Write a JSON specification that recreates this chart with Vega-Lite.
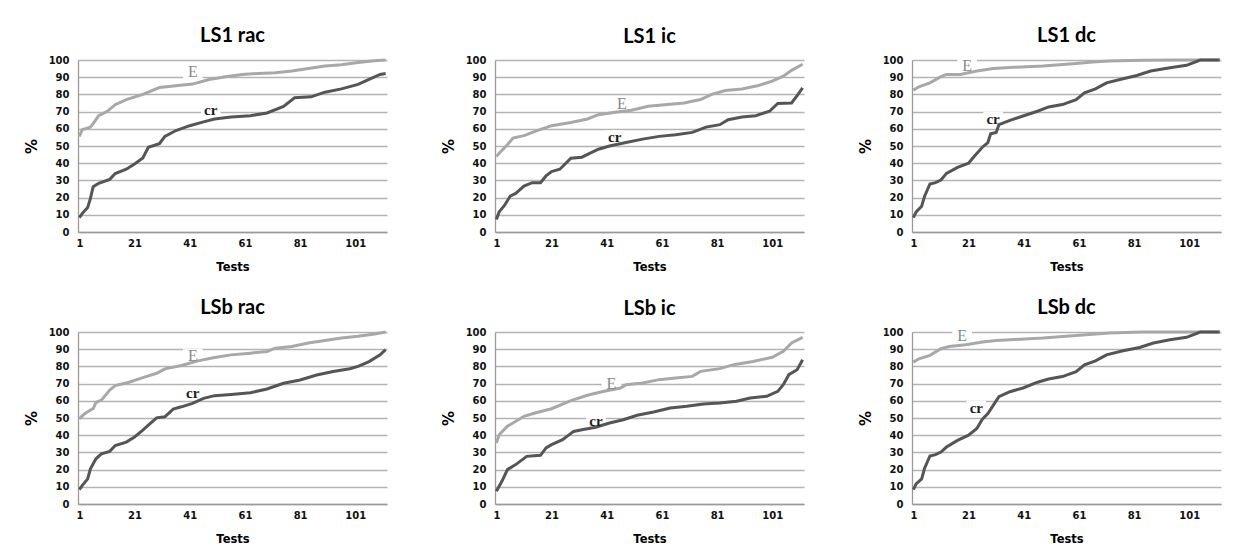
{
  "$schema": "https://vega.github.io/schema/vega-lite/v6.json",
  "background": "white",
  "padding": {"left": 24, "top": 26, "right": 0, "bottom": 0},
  "data": {"values": [
    {"p":"LS1 rac","s":"E","t":1,"v":55.5},{"p":"LS1 rac","s":"E","t":2,"v":59.5},{"p":"LS1 rac","s":"E","t":5,"v":61},{"p":"LS1 rac","s":"E","t":6,"v":63},{"p":"LS1 rac","s":"E","t":8,"v":67.6},{"p":"LS1 rac","s":"E","t":11,"v":70},{"p":"LS1 rac","s":"E","t":14,"v":74},{"p":"LS1 rac","s":"E","t":18,"v":77},{"p":"LS1 rac","s":"E","t":24,"v":80},{"p":"LS1 rac","s":"E","t":30,"v":84},{"p":"LS1 rac","s":"E","t":36,"v":85},{"p":"LS1 rac","s":"E","t":42,"v":86},{"p":"LS1 rac","s":"E","t":48,"v":88.7},{"p":"LS1 rac","s":"E","t":54,"v":90.2},{"p":"LS1 rac","s":"E","t":60,"v":91.6},{"p":"LS1 rac","s":"E","t":66,"v":92.2},{"p":"LS1 rac","s":"E","t":72,"v":92.6},{"p":"LS1 rac","s":"E","t":78,"v":93.6},{"p":"LS1 rac","s":"E","t":84,"v":95},{"p":"LS1 rac","s":"E","t":90,"v":96.5},{"p":"LS1 rac","s":"E","t":96,"v":97.3},{"p":"LS1 rac","s":"E","t":102,"v":98.5},{"p":"LS1 rac","s":"E","t":108,"v":99.6},{"p":"LS1 rac","s":"E","t":112,"v":100},
    {"p":"LS1 rac","s":"cr","t":1,"v":8.4},{"p":"LS1 rac","s":"cr","t":2,"v":10.7},{"p":"LS1 rac","s":"cr","t":4,"v":14.2},{"p":"LS1 rac","s":"cr","t":5,"v":19.5},{"p":"LS1 rac","s":"cr","t":6,"v":26.3},{"p":"LS1 rac","s":"cr","t":8,"v":28.3},{"p":"LS1 rac","s":"cr","t":12,"v":30.6},{"p":"LS1 rac","s":"cr","t":14,"v":34},{"p":"LS1 rac","s":"cr","t":18,"v":36.5},{"p":"LS1 rac","s":"cr","t":21,"v":39.6},{"p":"LS1 rac","s":"cr","t":24,"v":43},{"p":"LS1 rac","s":"cr","t":26,"v":49.3},{"p":"LS1 rac","s":"cr","t":30,"v":51.3},{"p":"LS1 rac","s":"cr","t":32,"v":55.6},{"p":"LS1 rac","s":"cr","t":36,"v":59},{"p":"LS1 rac","s":"cr","t":41,"v":61.8},{"p":"LS1 rac","s":"cr","t":46,"v":64},{"p":"LS1 rac","s":"cr","t":50,"v":65.7},{"p":"LS1 rac","s":"cr","t":56,"v":66.9},{"p":"LS1 rac","s":"cr","t":63,"v":67.6},{"p":"LS1 rac","s":"cr","t":69,"v":69.2},{"p":"LS1 rac","s":"cr","t":75,"v":73},{"p":"LS1 rac","s":"cr","t":79,"v":78},{"p":"LS1 rac","s":"cr","t":85,"v":78.6},{"p":"LS1 rac","s":"cr","t":90,"v":81.3},{"p":"LS1 rac","s":"cr","t":96,"v":83.2},{"p":"LS1 rac","s":"cr","t":102,"v":85.8},{"p":"LS1 rac","s":"cr","t":106,"v":88.7},{"p":"LS1 rac","s":"cr","t":110,"v":91.6},{"p":"LS1 rac","s":"cr","t":112,"v":92.2},
    {"p":"LS1 ic","s":"E","t":1,"v":43.9},{"p":"LS1 ic","s":"E","t":2,"v":45.8},{"p":"LS1 ic","s":"E","t":5,"v":50.7},{"p":"LS1 ic","s":"E","t":7,"v":54.6},{"p":"LS1 ic","s":"E","t":11,"v":56},{"p":"LS1 ic","s":"E","t":15,"v":58.5},{"p":"LS1 ic","s":"E","t":21,"v":61.8},{"p":"LS1 ic","s":"E","t":28,"v":63.7},{"p":"LS1 ic","s":"E","t":34,"v":65.7},{"p":"LS1 ic","s":"E","t":38,"v":68.2},{"p":"LS1 ic","s":"E","t":44,"v":69.6},{"p":"LS1 ic","s":"E","t":50,"v":70.8},{"p":"LS1 ic","s":"E","t":56,"v":73.1},{"p":"LS1 ic","s":"E","t":63,"v":74.1},{"p":"LS1 ic","s":"E","t":69,"v":75},{"p":"LS1 ic","s":"E","t":75,"v":77},{"p":"LS1 ic","s":"E","t":79,"v":80},{"p":"LS1 ic","s":"E","t":84,"v":82.3},{"p":"LS1 ic","s":"E","t":90,"v":83.2},{"p":"LS1 ic","s":"E","t":96,"v":85.2},{"p":"LS1 ic","s":"E","t":101,"v":87.7},{"p":"LS1 ic","s":"E","t":105,"v":90.6},{"p":"LS1 ic","s":"E","t":108,"v":94},{"p":"LS1 ic","s":"E","t":112,"v":97.5},
    {"p":"LS1 ic","s":"cr","t":1,"v":7.2},{"p":"LS1 ic","s":"cr","t":2,"v":11.7},{"p":"LS1 ic","s":"cr","t":4,"v":15.6},{"p":"LS1 ic","s":"cr","t":6,"v":20.9},{"p":"LS1 ic","s":"cr","t":8,"v":22.4},{"p":"LS1 ic","s":"cr","t":11,"v":26.7},{"p":"LS1 ic","s":"cr","t":14,"v":28.7},{"p":"LS1 ic","s":"cr","t":17,"v":28.7},{"p":"LS1 ic","s":"cr","t":19,"v":32.6},{"p":"LS1 ic","s":"cr","t":21,"v":35.1},{"p":"LS1 ic","s":"cr","t":24,"v":36.5},{"p":"LS1 ic","s":"cr","t":28,"v":42.9},{"p":"LS1 ic","s":"cr","t":32,"v":43.5},{"p":"LS1 ic","s":"cr","t":35,"v":45.8},{"p":"LS1 ic","s":"cr","t":38,"v":48.1},{"p":"LS1 ic","s":"cr","t":42,"v":50},{"p":"LS1 ic","s":"cr","t":48,"v":52},{"p":"LS1 ic","s":"cr","t":54,"v":54},{"p":"LS1 ic","s":"cr","t":60,"v":55.6},{"p":"LS1 ic","s":"cr","t":66,"v":56.5},{"p":"LS1 ic","s":"cr","t":72,"v":57.9},{"p":"LS1 ic","s":"cr","t":77,"v":61},{"p":"LS1 ic","s":"cr","t":82,"v":62.4},{"p":"LS1 ic","s":"cr","t":85,"v":65.3},{"p":"LS1 ic","s":"cr","t":90,"v":66.9},{"p":"LS1 ic","s":"cr","t":95,"v":67.6},{"p":"LS1 ic","s":"cr","t":100,"v":70.2},{"p":"LS1 ic","s":"cr","t":103,"v":74.7},{"p":"LS1 ic","s":"cr","t":108,"v":75},{"p":"LS1 ic","s":"cr","t":110,"v":79.3},{"p":"LS1 ic","s":"cr","t":112,"v":83.8},
    {"p":"LS1 dc","s":"E","t":1,"v":82.5},{"p":"LS1 dc","s":"E","t":3,"v":84.4},{"p":"LS1 dc","s":"E","t":7,"v":86.7},{"p":"LS1 dc","s":"E","t":11,"v":90.3},{"p":"LS1 dc","s":"E","t":13,"v":91.6},{"p":"LS1 dc","s":"E","t":18,"v":91.6},{"p":"LS1 dc","s":"E","t":24,"v":93.6},{"p":"LS1 dc","s":"E","t":30,"v":95},{"p":"LS1 dc","s":"E","t":36,"v":95.7},{"p":"LS1 dc","s":"E","t":42,"v":96.1},{"p":"LS1 dc","s":"E","t":48,"v":96.5},{"p":"LS1 dc","s":"E","t":54,"v":97.3},{"p":"LS1 dc","s":"E","t":60,"v":98},{"p":"LS1 dc","s":"E","t":66,"v":98.8},{"p":"LS1 dc","s":"E","t":72,"v":99.4},{"p":"LS1 dc","s":"E","t":84,"v":99.8},{"p":"LS1 dc","s":"E","t":96,"v":100},{"p":"LS1 dc","s":"E","t":112,"v":100},
    {"p":"LS1 dc","s":"cr","t":1,"v":8.4},{"p":"LS1 dc","s":"cr","t":2,"v":11.7},{"p":"LS1 dc","s":"cr","t":4,"v":15},{"p":"LS1 dc","s":"cr","t":5,"v":20.5},{"p":"LS1 dc","s":"cr","t":7,"v":27.9},{"p":"LS1 dc","s":"cr","t":9,"v":28.7},{"p":"LS1 dc","s":"cr","t":11,"v":30.2},{"p":"LS1 dc","s":"cr","t":13,"v":34.1},{"p":"LS1 dc","s":"cr","t":17,"v":37.6},{"p":"LS1 dc","s":"cr","t":21,"v":40},{"p":"LS1 dc","s":"cr","t":23,"v":43.9},{"p":"LS1 dc","s":"cr","t":26,"v":49.3},{"p":"LS1 dc","s":"cr","t":28,"v":52},{"p":"LS1 dc","s":"cr","t":29,"v":57.1},{"p":"LS1 dc","s":"cr","t":31,"v":57.9},{"p":"LS1 dc","s":"cr","t":32,"v":62.4},{"p":"LS1 dc","s":"cr","t":36,"v":64.9},{"p":"LS1 dc","s":"cr","t":41,"v":67.6},{"p":"LS1 dc","s":"cr","t":46,"v":70.2},{"p":"LS1 dc","s":"cr","t":50,"v":72.7},{"p":"LS1 dc","s":"cr","t":55,"v":74.1},{"p":"LS1 dc","s":"cr","t":60,"v":77},{"p":"LS1 dc","s":"cr","t":63,"v":80.9},{"p":"LS1 dc","s":"cr","t":67,"v":83.2},{"p":"LS1 dc","s":"cr","t":71,"v":86.7},{"p":"LS1 dc","s":"cr","t":77,"v":89.1},{"p":"LS1 dc","s":"cr","t":82,"v":91},{"p":"LS1 dc","s":"cr","t":87,"v":93.6},{"p":"LS1 dc","s":"cr","t":94,"v":95.5},{"p":"LS1 dc","s":"cr","t":100,"v":96.9},{"p":"LS1 dc","s":"cr","t":105,"v":100},{"p":"LS1 dc","s":"cr","t":112,"v":100},
    {"p":"LSb rac","s":"E","t":1,"v":49.7},{"p":"LSb rac","s":"E","t":3,"v":52.6},{"p":"LSb rac","s":"E","t":6,"v":55.5},{"p":"LSb rac","s":"E","t":7,"v":59},{"p":"LSb rac","s":"E","t":9,"v":60.4},{"p":"LSb rac","s":"E","t":12,"v":66.3},{"p":"LSb rac","s":"E","t":14,"v":68.8},{"p":"LSb rac","s":"E","t":19,"v":70.8},{"p":"LSb rac","s":"E","t":24,"v":73.5},{"p":"LSb rac","s":"E","t":29,"v":76},{"p":"LSb rac","s":"E","t":32,"v":78.6},{"p":"LSb rac","s":"E","t":38,"v":80.5},{"p":"LSb rac","s":"E","t":44,"v":83.2},{"p":"LSb rac","s":"E","t":50,"v":85.2},{"p":"LSb rac","s":"E","t":56,"v":86.7},{"p":"LSb rac","s":"E","t":63,"v":87.7},{"p":"LSb rac","s":"E","t":69,"v":88.7},{"p":"LSb rac","s":"E","t":72,"v":90.6},{"p":"LSb rac","s":"E","t":78,"v":91.6},{"p":"LSb rac","s":"E","t":84,"v":93.6},{"p":"LSb rac","s":"E","t":90,"v":95},{"p":"LSb rac","s":"E","t":96,"v":96.5},{"p":"LSb rac","s":"E","t":102,"v":97.5},{"p":"LSb rac","s":"E","t":108,"v":98.8},{"p":"LSb rac","s":"E","t":112,"v":100},
    {"p":"LSb rac","s":"cr","t":1,"v":8.4},{"p":"LSb rac","s":"cr","t":2,"v":10.7},{"p":"LSb rac","s":"cr","t":4,"v":14.6},{"p":"LSb rac","s":"cr","t":5,"v":20.5},{"p":"LSb rac","s":"cr","t":7,"v":26.3},{"p":"LSb rac","s":"cr","t":9,"v":29.2},{"p":"LSb rac","s":"cr","t":12,"v":30.6},{"p":"LSb rac","s":"cr","t":14,"v":34},{"p":"LSb rac","s":"cr","t":18,"v":36},{"p":"LSb rac","s":"cr","t":21,"v":39},{"p":"LSb rac","s":"cr","t":24,"v":42.9},{"p":"LSb rac","s":"cr","t":26,"v":45.8},{"p":"LSb rac","s":"cr","t":29,"v":50.1},{"p":"LSb rac","s":"cr","t":32,"v":50.7},{"p":"LSb rac","s":"cr","t":35,"v":55.2},{"p":"LSb rac","s":"cr","t":38,"v":56.5},{"p":"LSb rac","s":"cr","t":42,"v":58.5},{"p":"LSb rac","s":"cr","t":46,"v":61.4},{"p":"LSb rac","s":"cr","t":50,"v":63},{"p":"LSb rac","s":"cr","t":56,"v":63.7},{"p":"LSb rac","s":"cr","t":63,"v":64.7},{"p":"LSb rac","s":"cr","t":69,"v":66.9},{"p":"LSb rac","s":"cr","t":75,"v":70.2},{"p":"LSb rac","s":"cr","t":81,"v":72.1},{"p":"LSb rac","s":"cr","t":87,"v":75},{"p":"LSb rac","s":"cr","t":93,"v":77},{"p":"LSb rac","s":"cr","t":99,"v":78.6},{"p":"LSb rac","s":"cr","t":102,"v":80},{"p":"LSb rac","s":"cr","t":106,"v":82.8},{"p":"LSb rac","s":"cr","t":110,"v":86.7},{"p":"LSb rac","s":"cr","t":112,"v":89.7},
    {"p":"LSb ic","s":"E","t":1,"v":35.5},{"p":"LSb ic","s":"E","t":2,"v":40.3},{"p":"LSb ic","s":"E","t":5,"v":45.2},{"p":"LSb ic","s":"E","t":7,"v":47.1},{"p":"LSb ic","s":"E","t":11,"v":51},{"p":"LSb ic","s":"E","t":15,"v":52.9},{"p":"LSb ic","s":"E","t":21,"v":55.4},{"p":"LSb ic","s":"E","t":28,"v":60.1},{"p":"LSb ic","s":"E","t":34,"v":63.2},{"p":"LSb ic","s":"E","t":40,"v":65.5},{"p":"LSb ic","s":"E","t":46,"v":67.4},{"p":"LSb ic","s":"E","t":48,"v":69.4},{"p":"LSb ic","s":"E","t":54,"v":70.3},{"p":"LSb ic","s":"E","t":60,"v":72.3},{"p":"LSb ic","s":"E","t":66,"v":73.3},{"p":"LSb ic","s":"E","t":72,"v":74.2},{"p":"LSb ic","s":"E","t":75,"v":77.1},{"p":"LSb ic","s":"E","t":82,"v":78.7},{"p":"LSb ic","s":"E","t":87,"v":81},{"p":"LSb ic","s":"E","t":94,"v":82.9},{"p":"LSb ic","s":"E","t":101,"v":85.3},{"p":"LSb ic","s":"E","t":105,"v":88.8},{"p":"LSb ic","s":"E","t":108,"v":93.6},{"p":"LSb ic","s":"E","t":112,"v":96.9},
    {"p":"LSb ic","s":"cr","t":1,"v":7.4},{"p":"LSb ic","s":"cr","t":3,"v":13.2},{"p":"LSb ic","s":"cr","t":5,"v":20},{"p":"LSb ic","s":"cr","t":8,"v":22.9},{"p":"LSb ic","s":"cr","t":12,"v":27.7},{"p":"LSb ic","s":"cr","t":17,"v":28.3},{"p":"LSb ic","s":"cr","t":19,"v":32.6},{"p":"LSb ic","s":"cr","t":21,"v":34.5},{"p":"LSb ic","s":"cr","t":25,"v":37.4},{"p":"LSb ic","s":"cr","t":29,"v":42.2},{"p":"LSb ic","s":"cr","t":32,"v":43.2},{"p":"LSb ic","s":"cr","t":37,"v":44.6},{"p":"LSb ic","s":"cr","t":42,"v":47.1},{"p":"LSb ic","s":"cr","t":47,"v":49},{"p":"LSb ic","s":"cr","t":52,"v":51.6},{"p":"LSb ic","s":"cr","t":58,"v":53.5},{"p":"LSb ic","s":"cr","t":64,"v":55.8},{"p":"LSb ic","s":"cr","t":70,"v":56.8},{"p":"LSb ic","s":"cr","t":76,"v":58.1},{"p":"LSb ic","s":"cr","t":82,"v":58.7},{"p":"LSb ic","s":"cr","t":88,"v":59.7},{"p":"LSb ic","s":"cr","t":93,"v":61.6},{"p":"LSb ic","s":"cr","t":99,"v":62.6},{"p":"LSb ic","s":"cr","t":103,"v":65.5},{"p":"LSb ic","s":"cr","t":105,"v":69.4},{"p":"LSb ic","s":"cr","t":107,"v":75.2},{"p":"LSb ic","s":"cr","t":110,"v":78.1},{"p":"LSb ic","s":"cr","t":112,"v":83.9},
    {"p":"LSb dc","s":"E","t":1,"v":82.5},{"p":"LSb dc","s":"E","t":3,"v":84.4},{"p":"LSb dc","s":"E","t":7,"v":86.4},{"p":"LSb dc","s":"E","t":11,"v":90.3},{"p":"LSb dc","s":"E","t":14,"v":91.6},{"p":"LSb dc","s":"E","t":20,"v":92.6},{"p":"LSb dc","s":"E","t":26,"v":94.2},{"p":"LSb dc","s":"E","t":31,"v":95},{"p":"LSb dc","s":"E","t":36,"v":95.5},{"p":"LSb dc","s":"E","t":48,"v":96.5},{"p":"LSb dc","s":"E","t":60,"v":98},{"p":"LSb dc","s":"E","t":72,"v":99.4},{"p":"LSb dc","s":"E","t":84,"v":100},{"p":"LSb dc","s":"E","t":112,"v":100},
    {"p":"LSb dc","s":"cr","t":1,"v":8.4},{"p":"LSb dc","s":"cr","t":2,"v":11.7},{"p":"LSb dc","s":"cr","t":4,"v":14.6},{"p":"LSb dc","s":"cr","t":5,"v":20.5},{"p":"LSb dc","s":"cr","t":7,"v":27.9},{"p":"LSb dc","s":"cr","t":9,"v":28.7},{"p":"LSb dc","s":"cr","t":11,"v":30.2},{"p":"LSb dc","s":"cr","t":13,"v":33.1},{"p":"LSb dc","s":"cr","t":17,"v":37},{"p":"LSb dc","s":"cr","t":21,"v":40},{"p":"LSb dc","s":"cr","t":24,"v":43.9},{"p":"LSb dc","s":"cr","t":26,"v":49.3},{"p":"LSb dc","s":"cr","t":28,"v":52.6},{"p":"LSb dc","s":"cr","t":30,"v":57.5},{"p":"LSb dc","s":"cr","t":32,"v":62.4},{"p":"LSb dc","s":"cr","t":36,"v":65.3},{"p":"LSb dc","s":"cr","t":41,"v":67.6},{"p":"LSb dc","s":"cr","t":46,"v":70.8},{"p":"LSb dc","s":"cr","t":50,"v":72.7},{"p":"LSb dc","s":"cr","t":55,"v":74.1},{"p":"LSb dc","s":"cr","t":60,"v":77},{"p":"LSb dc","s":"cr","t":63,"v":80.9},{"p":"LSb dc","s":"cr","t":67,"v":83.2},{"p":"LSb dc","s":"cr","t":71,"v":86.7},{"p":"LSb dc","s":"cr","t":77,"v":89.1},{"p":"LSb dc","s":"cr","t":83,"v":91},{"p":"LSb dc","s":"cr","t":88,"v":93.6},{"p":"LSb dc","s":"cr","t":94,"v":95.5},{"p":"LSb dc","s":"cr","t":100,"v":96.9},{"p":"LSb dc","s":"cr","t":105,"v":100},{"p":"LSb dc","s":"cr","t":112,"v":100},
    {"p":"LS1 rac","lab":"E","t":42.1,"v":93.2},{"p":"LS1 rac","lab":"cr","t":48.6,"v":71.2},
    {"p":"LS1 ic","lab":"E","t":46.5,"v":74.3},{"p":"LS1 ic","lab":"cr","t":43.9,"v":55.2},
    {"p":"LS1 dc","lab":"E","t":20.5,"v":96.7},{"p":"LS1 dc","lab":"cr","t":29.9,"v":65.9},
    {"p":"LSb rac","lab":"E","t":42.1,"v":86},{"p":"LSb rac","lab":"cr","t":42.1,"v":64.7},
    {"p":"LSb ic","lab":"E","t":42.7,"v":70},{"p":"LSb ic","lab":"cr","t":37.1,"v":48.4},
    {"p":"LSb dc","lab":"E","t":18.7,"v":97.7},{"p":"LSb dc","lab":"cr","t":23.8,"v":56}
  ]},
  "facet": {
    "field": "p", "type": "nominal",
    "sort": ["LS1 rac","LS1 ic","LS1 dc","LSb rac","LSb ic","LSb dc"],
    "header": {"title": null, "labelFont": "Lato", "labelFontSize": 20, "labelFontWeight": "bold", "labelColor": "#000000", "labelPadding": 8}
  },
  "columns": 3,
  "spacing": {"row": 25, "column": 49},
  "resolve": {"axis": {"x": "independent", "y": "independent"}},
  "spec": {
    "width": 309,
    "height": 172,
    "encoding": {
      "x": {"field": "t", "type": "quantitative", "title": "Tests",
            "scale": {"domain": [0.5, 112.5], "nice": false, "zero": false},
            "axis": {"values": [1, 21, 41, 61, 81, 101], "grid": false}},
      "y": {"field": "v", "type": "quantitative", "title": "%",
            "scale": {"domain": [0, 100], "nice": false},
            "axis": {"values": [0, 10, 20, 30, 40, 50, 60, 70, 80, 90, 100], "grid": true}}
    },
    "layer": [
      {
        "transform": [{"filter": "isValid(datum.lab)"}],
        "mark": {"type": "point", "shape": "M-1.4,-1L1.4,-1L1.4,1L-1.4,1Z", "filled": true, "fill": "#ffffff", "strokeWidth": 0, "size": 196, "opacity": 1}
      },
      {
        "transform": [{"filter": "isValid(datum.s)"}],
        "mark": {"type": "line", "strokeWidth": 3},
        "encoding": {
          "color": {"field": "s", "type": "nominal", "scale": {"domain": ["E", "cr"], "range": ["#a8a8a8", "#555555"]}, "legend": null}
        }
      },
      {
        "transform": [{"filter": "datum.lab === 'E'"}],
        "mark": {"type": "text", "font": "Liberation Serif", "fontSize": 16, "color": "#888888"},
        "encoding": {"text": {"field": "lab"}}
      },
      {
        "transform": [{"filter": "datum.lab === 'cr'"}],
        "mark": {"type": "text", "font": "Liberation Serif", "fontSize": 15, "fontWeight": "bold", "color": "#1e1e1e"},
        "encoding": {"text": {"field": "lab"}}
      }
    ]
  },
  "config": {
    "view": {"stroke": null},
    "axis": {
      "domainColor": "#9a9a9a", "domainWidth": 1.3,
      "gridColor": "#b4b4b4", "gridWidth": 1.4,
      "ticks": false, "tickSize": 0,
      "labelFont": "DejaVu Sans", "labelFontWeight": "bold", "labelFontSize": 10, "labelColor": "#111111",
      "titleFont": "DejaVu Sans", "titleFontWeight": "bold", "titleColor": "#000000"
    },
    "axisX": {"labelPadding": 6, "titleFontSize": 11.5, "titlePadding": 13},
    "axisY": {"labelPadding": 9, "titleFontSize": 15, "titlePadding": 9, "minExtent": 30, "maxExtent": 30}
  }
}
